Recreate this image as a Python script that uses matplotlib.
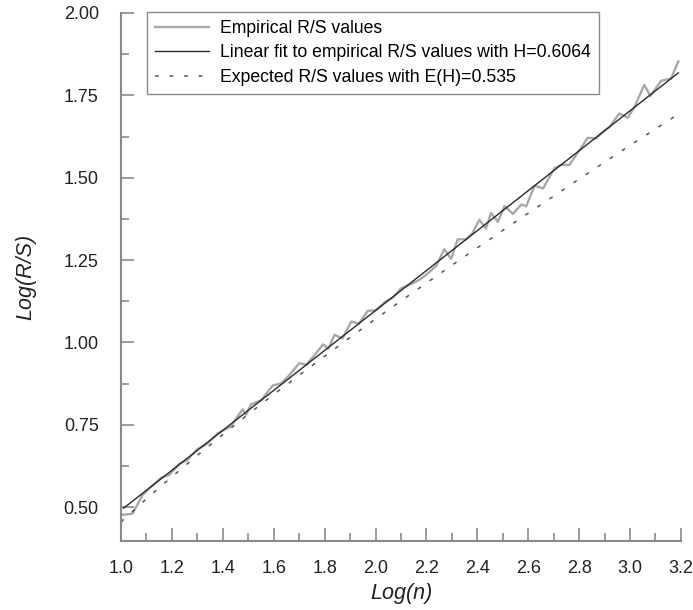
import matplotlib
matplotlib.use("Agg")
import matplotlib.pyplot as plt
from matplotlib.ticker import MultipleLocator, FormatStrFormatter
import numpy as np

plt.rcParams['font.family'] = ['Liberation Sans', 'DejaVu Sans']

# empirical rescaled range, log10 scale
log_n = [1.000, 1.045, 1.086, 1.120, 1.160, 1.190, 1.230, 1.260, 1.300, 1.340,
         1.380, 1.430, 1.478, 1.491, 1.511, 1.550, 1.596, 1.630, 1.660, 1.700,
         1.728, 1.760, 1.794, 1.815, 1.839, 1.870, 1.905, 1.935, 1.970, 2.000,
         2.040, 2.070, 2.100, 2.140, 2.173, 2.205, 2.238, 2.270, 2.297, 2.323,
         2.356, 2.380, 2.408, 2.434, 2.454, 2.481, 2.507, 2.540, 2.573, 2.592,
         2.625, 2.658, 2.703, 2.730, 2.762, 2.800, 2.834, 2.867, 2.890, 2.919,
         2.958, 2.991, 3.017, 3.056, 3.080, 3.122, 3.161, 3.190]
log_rs = [0.476, 0.480, 0.538, 0.563, 0.590, 0.598, 0.632, 0.642, 0.676, 0.693,
          0.724, 0.744, 0.797, 0.780, 0.812, 0.824, 0.869, 0.876, 0.899, 0.937,
          0.932, 0.961, 0.994, 0.981, 1.023, 1.012, 1.063, 1.057, 1.096, 1.097,
          1.124, 1.137, 1.164, 1.177, 1.190, 1.209, 1.232, 1.283, 1.254, 1.313,
          1.313, 1.331, 1.372, 1.346, 1.393, 1.366, 1.414, 1.390, 1.419, 1.413,
          1.476, 1.467, 1.529, 1.539, 1.539, 1.582, 1.621, 1.619, 1.637, 1.654,
          1.695, 1.682, 1.714, 1.782, 1.748, 1.794, 1.801, 1.853]

# fitted line
H = 0.6064
intercept = -0.116

# expected R/S (Anis-Lloyd) with E(H)=0.535
exp_log_n = [1.0, 1.1, 1.2, 1.3, 1.4, 1.5, 1.6, 1.7, 1.8, 1.9, 2.0, 2.1,
             2.2, 2.3, 2.4, 2.5, 2.6, 2.7, 2.8, 2.9, 3.0, 3.1, 3.2]
exp_log_rs = [0.455, 0.525, 0.592, 0.657, 0.720, 0.782, 0.842, 0.900, 0.958,
              1.015, 1.071, 1.126, 1.180, 1.234, 1.287, 1.340, 1.392, 1.444,
              1.496, 1.547, 1.598, 1.648, 1.698]

fig = plt.figure(figsize=(6.93, 6.10), dpi=100)
ax = fig.add_axes([0.1746, 0.1131, 0.808, 0.8656])

ax.plot(log_n, log_rs, color='#a8a8a8', lw=1.7,
        label='Empirical R/S values')
fit_x = np.array([log_n[0] + 0.01, log_n[-1]])
ax.plot(fit_x, intercept + H * fit_x, color='#2a2a2a', lw=1.0,
        label=f'Linear fit to empirical R/S values with H={H}')
ax.plot(exp_log_n, exp_log_rs, color='#555555', lw=1.1, dashes=(2.5, 7),
        label='Expected R/S values with E(H)=0.535')

ax.set_xlim(1.0, 3.2)
ax.set_ylim(0.397, 2.0)

ax.xaxis.set_major_locator(MultipleLocator(0.2))
ax.xaxis.set_minor_locator(MultipleLocator(0.1))
ax.yaxis.set_major_locator(MultipleLocator(0.25))
ax.yaxis.set_minor_locator(MultipleLocator(0.125))
ax.xaxis.set_major_formatter(FormatStrFormatter('%.1f'))
ax.yaxis.set_major_formatter(FormatStrFormatter('%.2f'))

for side in ['top', 'right']:
    ax.spines[side].set_visible(False)
for side in ['left', 'bottom']:
    ax.spines[side].set_color('#8a8a8a')
    ax.spines[side].set_linewidth(1.5)

ax.tick_params(which='major', direction='in', length=9.5, width=1.2,
               color='#8a8a8a', labelsize=13, labelcolor='#222222')
ax.tick_params(which='minor', direction='in', length=5.5, width=1.2,
               color='#8a8a8a')
ax.tick_params(axis='y', which='major', pad=16)
ax.tick_params(axis='x', which='major', pad=14)

ax.set_xlabel('Log(n)', fontsize=15.5, style='italic', color='#222222',
              labelpad=4)
ax.set_ylabel('Log(R/S)', fontsize=15.5, style='italic', color='#222222',
              labelpad=20)

leg = ax.legend(loc='upper left', bbox_to_anchor=(0.046, 1.002),
                borderaxespad=0, fontsize=12.7, fancybox=False,
                edgecolor='#8a8a8a', framealpha=1, handlelength=3.1,
                handletextpad=0.6, borderpad=0.45, labelspacing=0.42)
leg.get_frame().set_linewidth(1.0)

fig.savefig('out.png', dpi=100)
